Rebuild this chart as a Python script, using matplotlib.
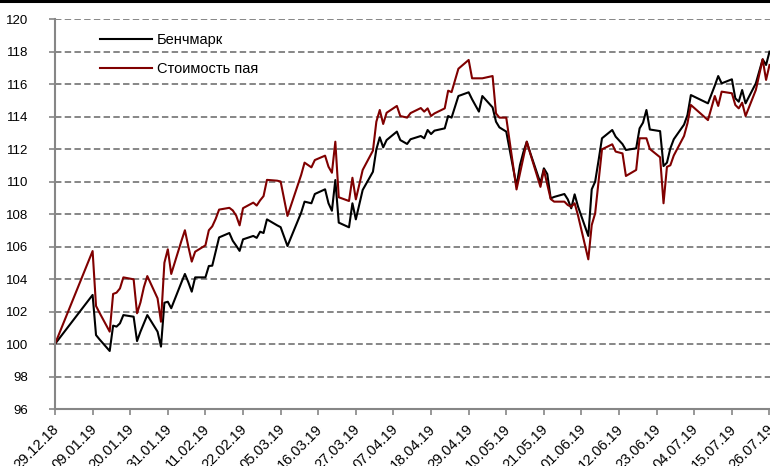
import pandas as pd
import matplotlib
matplotlib.use("Agg")
import matplotlib.pyplot as plt
import matplotlib.dates as mdates
import matplotlib.transforms as mtransforms
from matplotlib.lines import Line2D

plt.rcParams['font.family'] = ['Liberation Sans', 'DejaVu Sans']

# данные графика
dates = [
    "29.12.18", "09.01.19", "10.01.19", "11.01.19", "14.01.19", "15.01.19", "16.01.19",
    "17.01.19", "18.01.19", "21.01.19", "22.01.19", "23.01.19", "24.01.19", "25.01.19",
    "28.01.19", "29.01.19", "30.01.19", "31.01.19", "01.02.19", "04.02.19", "05.02.19",
    "06.02.19", "07.02.19", "08.02.19", "11.02.19", "12.02.19", "13.02.19", "14.02.19",
    "15.02.19", "18.02.19", "19.02.19", "20.02.19", "21.02.19", "22.02.19", "25.02.19",
    "26.02.19", "27.02.19", "28.02.19", "01.03.19", "04.03.19", "05.03.19", "07.03.19",
    "11.03.19", "12.03.19", "14.03.19", "15.03.19", "18.03.19", "19.03.19", "20.03.19",
    "21.03.19", "22.03.19", "25.03.19", "26.03.19", "27.03.19", "29.03.19", "01.04.19",
    "02.04.19", "03.04.19", "04.04.19", "05.04.19", "08.04.19", "09.04.19", "11.04.19",
    "12.04.19", "15.04.19", "16.04.19", "17.04.19", "18.04.19", "19.04.19", "22.04.19",
    "23.04.19", "24.04.19", "26.04.19", "29.04.19", "30.04.19", "02.05.19", "03.05.19",
    "06.05.19", "07.05.19", "08.05.19", "10.05.19", "13.05.19", "14.05.19", "15.05.19",
    "16.05.19", "17.05.19", "20.05.19", "21.05.19", "22.05.19", "23.05.19", "24.05.19",
    "27.05.19", "28.05.19", "29.05.19", "30.05.19", "31.05.19", "03.06.19", "04.06.19",
    "05.06.19", "06.06.19", "07.06.19", "10.06.19", "11.06.19", "13.06.19", "14.06.19",
    "17.06.19", "18.06.19", "19.06.19", "20.06.19", "21.06.19", "24.06.19", "25.06.19",
    "26.06.19", "27.06.19", "28.06.19", "01.07.19", "02.07.19", "03.07.19", "08.07.19",
    "10.07.19", "11.07.19", "12.07.19", "15.07.19", "16.07.19", "17.07.19", "18.07.19",
    "19.07.19", "22.07.19", "24.07.19", "25.07.19", "26.07.19",
]

benchmark = [
    100.0, 103.02, 100.55, 100.29, 99.57, 101.13, 101.07,
    101.27, 101.78, 101.68, 100.18, 100.76, 101.27, 101.78,
    100.76, 99.84, 102.54, 102.6, 102.2, 103.8, 104.31,
    103.8, 103.22, 104.1, 104.1, 104.8, 104.82, 105.7,
    106.56, 106.83, 106.35, 106.05, 105.73, 106.44, 106.65,
    106.53, 106.91, 106.83, 107.67, 107.3, 107.19, 106.03,
    108.08, 108.76, 108.66, 109.23, 109.52, 108.66, 108.2,
    110.09, 107.47, 107.18, 108.66, 107.67, 109.48, 110.6,
    111.98, 112.72, 112.1, 112.55, 113.07, 112.55, 112.31,
    112.6, 112.8, 112.66, 113.17, 112.92, 113.13, 113.27,
    114.03, 113.93, 115.26, 115.49, 115.06, 114.3, 115.26,
    114.56, 113.68, 113.33, 113.07, 109.72, 111.0, 111.8,
    112.45, 111.77, 109.9, 110.81, 110.46, 108.96, 109.05,
    109.23, 108.9, 108.35, 109.21, 108.45, 106.65, 109.52,
    109.99, 111.3, 112.66, 113.17, 112.76, 112.3, 111.94,
    112.04, 113.27, 113.62, 114.4, 113.2, 113.1, 110.95,
    111.16, 112.04, 112.6, 113.5, 114.09, 115.32, 114.81,
    115.9, 116.49, 116.04, 116.29, 115.12, 114.91, 115.63,
    114.81, 116.04, 117.52, 117.17, 117.99,
]

unit_value = [
    100.0, 105.72, 102.34, 101.93, 100.76, 103.08, 103.16,
    103.42, 104.1, 103.98, 101.89, 102.56, 103.5, 104.18,
    102.81, 101.37, 105.0, 105.83, 104.31, 106.36, 107.0,
    106.0, 105.07, 105.68, 106.07, 107.0, 107.24, 107.7,
    108.27, 108.38, 108.22, 107.9, 107.3, 108.36, 108.7,
    108.52, 108.84, 109.1, 110.1, 110.05, 110.0, 107.88,
    110.4, 111.16, 110.87, 111.32, 111.59, 110.91, 110.54,
    112.45, 109.03, 108.8, 110.23, 108.9, 110.71, 111.9,
    113.68, 114.4, 113.54, 114.23, 114.65, 114.03, 113.93,
    114.21, 114.52, 114.3, 114.5, 114.03, 114.19, 114.5,
    115.59, 115.5, 116.94, 117.48, 116.35, 116.35, 116.35,
    116.49, 114.19, 113.93, 113.93, 109.51, 110.5, 111.5,
    112.45, 111.73, 109.67, 110.71, 109.8, 108.92, 108.76,
    108.76, 108.55, 108.45, 108.66, 107.9, 105.21, 107.32,
    108.04, 110.0, 111.98, 112.29, 111.84, 111.73, 110.34,
    110.71, 112.66, 112.66, 112.66, 112.0, 111.49, 108.66,
    110.9, 111.0, 111.6, 112.8, 113.58, 114.71, 113.78,
    115.26, 114.65, 115.53, 115.43, 114.71, 114.5, 114.85,
    114.03, 115.63, 117.52, 116.25, 117.17,
]

labels = ["Бенчмарк", "Стоимость пая"]
y_ticks = list(range(96, 121, 2))

x = pd.to_datetime(dates, format="%d.%m.%y")
x_ticks = pd.date_range("2018-12-29", periods=20, freq="11D")

fig = plt.figure(figsize=(7.7, 4.66), dpi=100)
ax = fig.add_axes([55 / 770, 57 / 466, 714.5 / 770, 390 / 466])

ax.plot(x, benchmark, color="black", lw=1.5, label=labels[0], clip_on=False)
ax.plot(x, unit_value, color="#800000", lw=1.5, label=labels[1], clip_on=False)

ax.set_xlim(x_ticks[0], x_ticks[-1])
ax.set_ylim(96, 120)
ax.set_yticks(y_ticks)
ax.set_xticks(x_ticks)
ax.xaxis.set_major_formatter(mdates.DateFormatter("%d.%m.%y"))

grey = "#868686"
ax.yaxis.grid(True, color=grey, lw=1.4, linestyle=(0, (3.3, 1.7)))
ax.set_axisbelow(True)
for s in ["top", "right"]:
    ax.spines[s].set_visible(False)
for s in ["left", "bottom"]:
    ax.spines[s].set_color(grey)
    ax.spines[s].set_linewidth(1.5)

ax.tick_params(axis="both", colors=grey, length=4.5, width=1.2, labelcolor="black", labelsize=9.5)
ax.tick_params(axis="y", pad=15)
ax.tick_params(axis="x", labelsize=10.5, pad=5)
shift = mtransforms.ScaledTranslation(-3 / 100, 0, fig.dpi_scale_trans)
for lab in ax.get_xticklabels():
    lab.set_rotation(45)
    lab.set_ha("right")
    lab.set_va("top")
    lab.set_rotation_mode("anchor")
    lab.set_transform(lab.get_transform() + shift)

ax.legend(loc="upper left", bbox_to_anchor=(0.055, 0.98), frameon=False, fontsize=10.5,
          handlelength=3.55, handletextpad=0.35, labelspacing=1.05, borderaxespad=0)

# чёрная полоса сверху
fig.add_artist(Line2D([0, 1], [1 - 1.2 / 466, 1 - 1.2 / 466], color="black", lw=2.2,
                      transform=fig.transFigure))

fig.savefig("out.png", dpi=100)
